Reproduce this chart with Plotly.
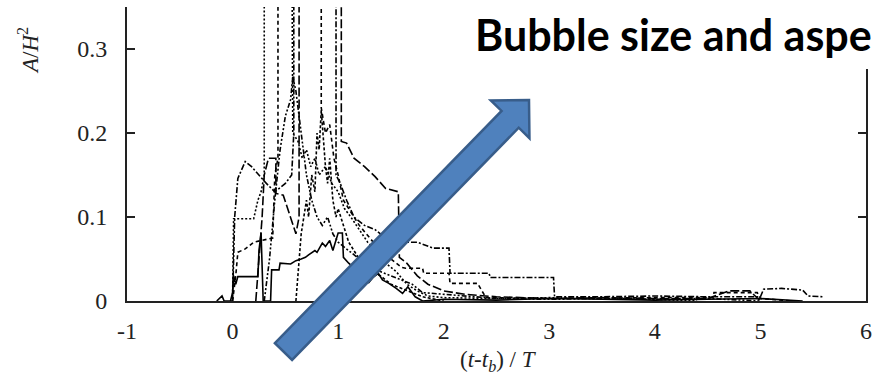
import math
import plotly.graph_objects as go

# ---- data: bubble area A/H^2 versus normalised time (t - t_b)/T ----
x_solid = [-0.15, -0.12, -0.1, -0.08, -0.02, 0.0, 0.01, 0.03, 0.05, 0.24, 0.25, 0.27, 0.28, 0.29, 0.36,
           0.37, 0.44, 0.45, 0.55, 0.6, 0.65, 0.69, 0.72, 0.78, 0.8, 0.85, 0.88, 0.92, 0.95, 1.0, 1.04,
           1.05, 1.1, 1.17, 1.22, 1.29, 1.33, 1.38, 1.42, 1.48, 1.55, 1.61, 1.66, 1.73, 1.8, 2.0, 2.5,
           3.0, 3.5, 4.0, 4.5, 5.0, 5.4]
y_solid = [0, 0.004, 0.006, 0, 0, 0.01, 0.03, 0.02, 0.029, 0.029, 0.06, 0.081, 0.04, 0.0, 0.0,
           0.037, 0.037, 0.045, 0.044, 0.048, 0.05, 0.052, 0.055, 0.06, 0.058, 0.069, 0.065, 0.072, 0.06,
           0.081, 0.081, 0.052, 0.045, 0.037, 0.03, 0.022, 0.028, 0.033, 0.025, 0.021, 0.015, 0.009, 0.017,
           0.005, 0.0, 0.002, 0.001, 0.003, 0.002, 0.001, 0.002, 0.003, 0.0]

x_dot = [-0.02, 0.0, 0.01, 0.2, 0.24, 0.27, 0.30, 0.30, 0.56, 0.57, 0.62, 0.66, 0.7, 0.74, 0.78, 0.82,
         0.88, 0.94, 1.0, 1.06, 1.12, 1.2, 1.28, 1.36, 1.45, 1.55, 1.65, 1.75, 1.85, 2.0, 2.5, 3.0, 3.5,
         4.0, 4.4]
y_dot = [0, 0.0, 0.098, 0.098, 0.12, 0.13, 0.15, 0.5, 0.5, 0.2, 0.19, 0.17, 0.18, 0.16, 0.17, 0.15,
         0.16, 0.14, 0.13, 0.11, 0.1, 0.085, 0.07, 0.06, 0.045, 0.035, 0.02, 0.012, 0.006, 0.004, 0.003,
         0.004, 0.003, 0.002, 0]

x_dash = [0.0, 0.03, 0.05, 0.12, 0.2, 0.3, 0.38, 0.4, 0.43, 0.43, 0.84, 0.84, 0.88, 0.92, 0.96, 1.0,
          1.05, 1.1, 1.2, 1.3, 1.4, 1.5, 1.6, 1.64, 1.8, 1.81, 2.05, 2.06, 2.32, 2.4, 3.0, 4.0, 4.55,
          4.56, 4.97, 5.0, 5.3]
y_dash = [0, 0.03, 0.058, 0.062, 0.07, 0.073, 0.075, 0.15, 0.17, 0.5, 0.5, 0.23, 0.2, 0.21, 0.17,
          0.15, 0.12, 0.11, 0.09, 0.075, 0.06, 0.05, 0.04, 0.039, 0.039, 0.033, 0.033, 0.021, 0.021,
          0.004, 0.003, 0.004, 0.004, 0.01, 0.01, 0.003, 0]

x_dashdot = [0.0, 0.02, 0.05, 0.12, 0.18, 0.25, 0.32, 0.4, 0.5, 0.56, 0.58, 0.58, 0.98, 0.98, 1.02,
             1.08, 1.15, 1.25, 1.35, 1.45, 1.55, 1.65, 1.75, 1.9, 2.05, 2.06, 2.43, 2.44, 3.04, 3.05,
             3.5, 4.0, 4.5, 5.0, 5.03, 5.2, 5.4, 5.45, 5.6]
y_dashdot = [0, 0.1, 0.146, 0.166, 0.16, 0.15, 0.14, 0.13, 0.14, 0.15, 0.2, 0.5, 0.5, 0.15, 0.14,
             0.12, 0.1, 0.09, 0.085, 0.075, 0.07, 0.07, 0.07, 0.063, 0.063, 0.033, 0.033, 0.028, 0.028,
             0.005, 0.005, 0.006, 0.005, 0.005, 0.014, 0.015, 0.013, 0.006, 0.005]

x_long = [0.22, 0.26, 0.28, 0.3, 0.34, 0.41, 0.41, 0.48, 0.55, 0.6, 0.63, 0.63, 1.03, 1.03, 1.08,
          1.15, 1.25, 1.35, 1.45, 1.57, 1.58, 1.65, 1.75, 1.85, 2.0, 2.2, 2.5, 3.0, 3.5, 4.0, 4.5,
          4.7, 4.9, 5.0]
y_long = [0.0, 0.07, 0.1, 0.15, 0.17, 0.17, 0.128, 0.126, 0.1, 0.08, 0.1, 0.5, 0.5, 0.19, 0.188,
          0.17, 0.16, 0.148, 0.134, 0.13, 0.052, 0.045, 0.03, 0.02, 0.012, 0.008, 0.005, 0.003, 0.004,
          0.003, 0.003, 0.012, 0.012, 0.0]

x_ddot = [0.3, 0.35, 0.4, 0.45, 0.5, 0.55, 0.57, 0.6, 0.65, 0.7, 0.75, 0.8, 0.85, 0.9, 0.95, 1.0, 1.1,
          1.2, 1.3, 1.4, 1.5, 1.6, 1.7, 1.8, 2.0, 2.3, 2.5, 3.0, 3.5, 4.0, 4.5, 5.0]
y_ddot = [0, 0.05, 0.12, 0.18, 0.22, 0.24, 0.267, 0.25, 0.2, 0.15, 0.12, 0.1, 0.09, 0.1, 0.08, 0.07,
          0.06, 0.05, 0.04, 0.035, 0.03, 0.025, 0.02, 0.01, 0.008, 0.005, 0.003, 0.002, 0.003, 0.002,
          0.003, 0]

x_short = [0.6, 0.65, 0.7, 0.72, 0.75, 0.78, 0.8, 0.82, 0.84, 0.86, 0.88, 0.9, 0.92, 0.95, 0.98, 1.0,
           1.05, 1.1, 1.15, 1.2, 1.3, 1.4, 1.5, 1.6, 1.7, 1.8, 2.0]
y_short = [0.0, 0.08, 0.12, 0.1, 0.15, 0.13, 0.2, 0.18, 0.227, 0.19, 0.16, 0.14, 0.17, 0.12, 0.1,
           0.11, 0.09, 0.07, 0.06, 0.05, 0.035, 0.03, 0.02, 0.015, 0.01, 0.005, 0.0]

x_ticks = [-1, 0, 1, 2, 3, 4, 5, 6]
x_ticklabels = ["-1", "0", "1", "2", "3", "4", "5", "6"]
y_ticks = [0, 0.1, 0.2, 0.3]
y_ticklabels = ["0", "0.1", "0.2", "0.3"]

series = [
    (x_solid, y_solid, "solid"),
    (x_dot, y_dot, "2px,2px"),
    (x_dash, y_dash, "4px,3px"),
    (x_dashdot, y_dashdot, "6px,2px,2px,2px"),
    (x_long, y_long, "9px,3px"),
    (x_ddot, y_ddot, "5px,2px,2px,2px,2px,2px"),
    (x_short, y_short, "3px,2px"),
]

W, H = 874, 381
L, R, T, B = 127, 866, 7, 301  # plot area edges in pixels

fig = go.Figure()
for xs, ys, dash in series:
    fig.add_trace(go.Scatter(x=xs, y=ys, mode="lines",
                             line=dict(color="black", width=1.6, dash=dash),
                             showlegend=False, hoverinfo="skip"))

serif = "Liberation Serif"
tick_font = dict(family=serif, size=24, color="#222")

fig.update_layout(
    width=W, height=H,
    margin=dict(l=L, r=W - R, t=T, b=H - B),
    paper_bgcolor="white", plot_bgcolor="white",
    showlegend=False,
    font=dict(family=serif, size=20, color="#222"),
    xaxis=dict(range=[-1, 6], tickmode="array", tickvals=x_ticks, ticktext=x_ticklabels, ticks="",
               showgrid=False, zeroline=False, showline=True, linecolor="#222", linewidth=2,
               mirror=False, tickfont=tick_font, ticklabelstandoff=7, automargin=False),
    yaxis=dict(range=[0, 0.35], tickmode="array", tickvals=y_ticks, ticktext=y_ticklabels,
               ticks="inside", ticklen=8, tickcolor="#222", tickwidth=1.5, showgrid=False,
               zeroline=False, showline=True, linecolor="#222", linewidth=2, mirror="ticks",
               tickfont=tick_font, ticklabelstandoff=13, automargin=False),
)


def to_paper(px, py):
    return (px - L) / (R - L), (B - py) / (B - T)


# block arrow overlay
tail = (283.5, 351.5)
tip = (529.0, 100.0)
shaft_half, head_half, head_len = 12.0, 27.0, 27.0
dx, dy = tip[0] - tail[0], tip[1] - tail[1]
n = math.hypot(dx, dy)
ux, uy = dx / n, dy / n
nx, ny = -uy, ux
neck = (tip[0] - head_len * ux, tip[1] - head_len * uy)
pts = [
    (tail[0] - shaft_half * nx, tail[1] - shaft_half * ny),
    (neck[0] - shaft_half * nx, neck[1] - shaft_half * ny),
    (neck[0] - head_half * nx, neck[1] - head_half * ny),
    tip,
    (neck[0] + head_half * nx, neck[1] + head_half * ny),
    (neck[0] + shaft_half * nx, neck[1] + shaft_half * ny),
    (tail[0] + shaft_half * nx, tail[1] + shaft_half * ny),
]
pp = [to_paper(*p) for p in pts]
path = "M " + " L ".join(f"{u:.5f},{v:.5f}" for u, v in pp) + " Z"
fig.add_shape(type="path", path=path, xref="paper", yref="paper", layer="above",
              fillcolor="#4F81BD", line=dict(color="#385D8A", width=2.5))

# white backing behind the heading
x0, y0 = to_paper(462, 69)
x1, y1 = to_paper(W + 5, -5)
fig.add_shape(type="rect", xref="paper", yref="paper", x0=x0, y0=y0, x1=x1, y1=y1,
              layer="above", fillcolor="white", line=dict(width=0))

hx, hy = to_paper(473, 34)
fig.add_annotation(text="<b>Bubble size and aspe</b>", xref="paper", yref="paper", x=hx, y=hy,
                   xanchor="left", yanchor="middle", showarrow=False,
                   font=dict(family="Lato", size=43, color="black"))

ax, ay = to_paper(28, 51)
fig.add_annotation(text="<i>A</i>/<i>H</i><sup>2</sup>", xref="paper", yref="paper", x=ax, y=ay,
                   xanchor="center", yanchor="middle", showarrow=False, textangle=-90,
                   font=dict(family=serif, size=23, color="#222"))

tx, ty = to_paper(498, 361)
fig.add_annotation(text="(<i>t</i>-<i>t</i><sub><i>b</i></sub>) / <i>T</i>", xref="paper", yref="paper",
                   x=tx, y=ty, xanchor="center", yanchor="middle", showarrow=False,
                   font=dict(family=serif, size=23, color="#222"))

fig.write_html("out.html")
